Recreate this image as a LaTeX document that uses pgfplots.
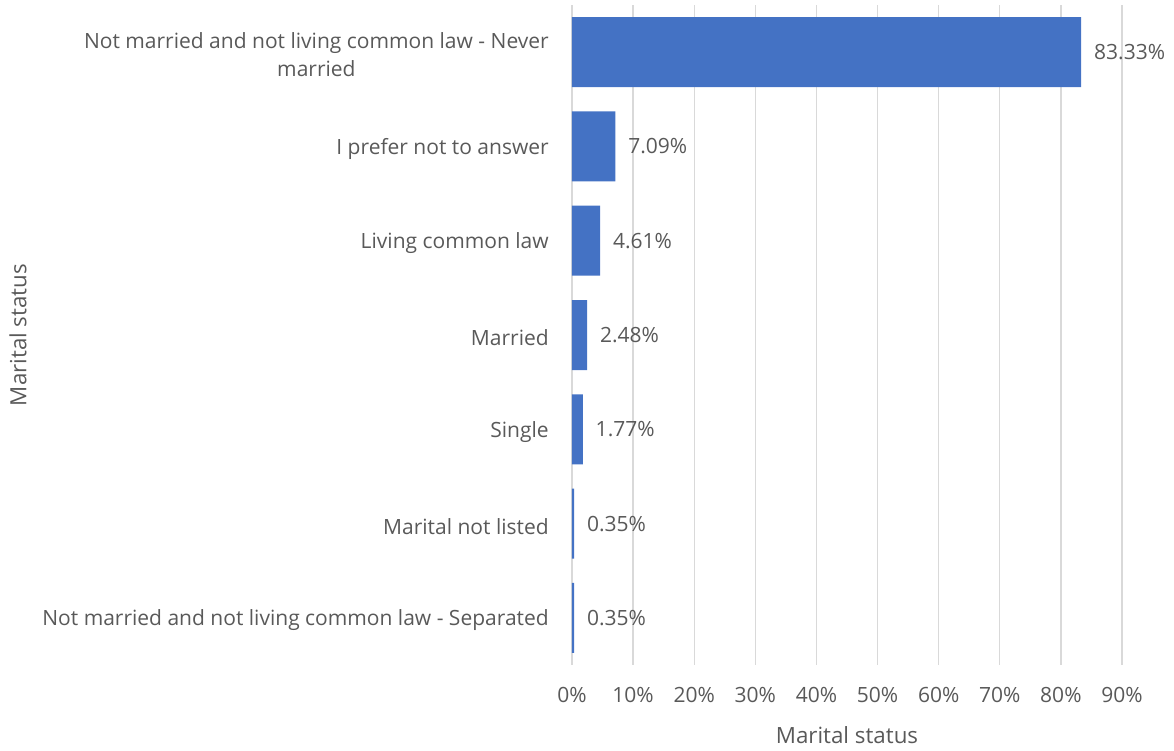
\documentclass[border=0pt]{standalone}
\usepackage{pgfplots}
\pgfplotsset{compat=1.18}
\usepackage{fontspec}
\setmainfont{Open Sans}
\definecolor{barblue}{HTML}{4472C4}
\definecolor{txt}{HTML}{595959}
\definecolor{grid}{HTML}{D9D9D9}
\begin{document}
\begin{tikzpicture}
\useasboundingbox (-429pt,-63.75pt) rectangle (451.5pt,498.75pt);
\begin{axis}[
  at={(0,0)}, anchor=south west,
  scale only axis,
  width=412.5pt, height=495pt,
  xbar, bar width=52.5pt,
  xmin=0, xmax=90,
  ymin=-0.5, ymax=6.5,
  y dir=reverse,
  axis line style={draw=none},
  major tick length=0pt,
  xtick={0,10,...,90},
  xticklabel={\pgfmathprintnumber{\tick}\%},
  ytick={0,1,2,3,4,5,6},
  yticklabels={{Not married and not living common law - Never\\married},
    I prefer not to answer, Living common law, Married, Single,
    Marital not listed, Not married and not living common law - Separated},
  /pgf/number format/assume math mode=true,
  font=\fontsize{15.75}{21}\selectfont,
  every tick label/.append style={text=txt},
  yticklabel style={anchor=east, align=center, inner sep=0pt, xshift=-17.25pt, yshift=-2pt},
  xticklabel style={anchor=center, inner sep=0pt, yshift=-22.5pt},
  xmajorgrids, major grid style={draw=grid, line width=1pt},
  xlabel={Marital status}, ylabel={Marital status},
  label style={text=txt, font=\fontsize{16.75}{20}\selectfont},
  xlabel style={at={(axis description cs:0.5,-0.10606)}, anchor=center},
  ylabel style={at={(axis description cs:-1.00727,0.5)}, anchor=center, rotate=0},
  nodes near coords={\pgfmathprintnumber[fixed,precision=2,zerofill]{\pgfplotspointmeta}\%},
  nodes near coords style={anchor=west, inner sep=0pt, xshift=9.5pt, text=txt, font=\fontsize{15.75}{21}\selectfont},
  clip=false,
]
\addplot[fill=barblue, draw=none] coordinates {
  (83.33,0) (7.09,1) (4.61,2) (2.48,3) (1.77,4) (0.35,5) (0.35,6)
};
\end{axis}
\end{tikzpicture}
\end{document}
